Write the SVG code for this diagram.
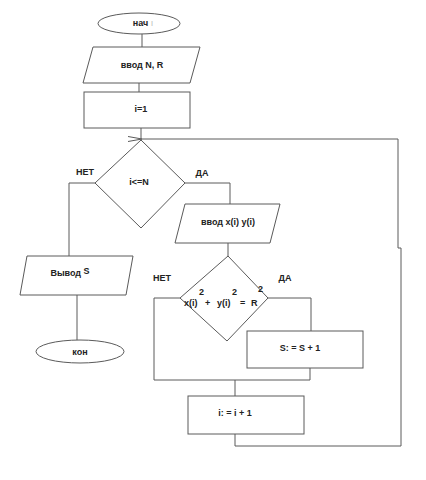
<svg xmlns="http://www.w3.org/2000/svg" width="426" height="480" viewBox="0 0 426 480">
<style>
.s{fill:#fff;stroke:#5a5a5a;stroke-width:1}
.c{fill:none;stroke:#5a5a5a;stroke-width:1}
text{font-family:"Liberation Sans",Arial,sans-serif;font-weight:bold;font-size:9px;fill:#222}
.m{text-anchor:middle}
</style>
<defs>
<marker id="ar" markerWidth="14" markerHeight="6" refX="0" refY="3" orient="auto" markerUnits="userSpaceOnUse">
<path d="M14,0.5 L0,3 L14,5.5" fill="none" stroke="#5a5a5a" stroke-width="1"/>
</marker>
</defs>
<rect width="426" height="480" fill="#fff"/>
<g id="connectors">
<path class="c" d="M142,34 V47"/>
<path class="c" d="M139,83 V92"/>
<path class="c" d="M141,128 V140"/>
<path class="c" d="M235,434 V446 H401 V248 H398 V139 H142" marker-end="url(#ar)"/>
<path class="c" d="M95,183 H69 V256"/>
<path class="c" d="M185,183 H230 V204"/>
<path class="c" d="M228,243 V256"/>
<path class="c" d="M77,295 V340"/>
<path class="c" d="M180,298 H154 V380 H310"/>
<path class="c" d="M268,298 H311 V331"/>
<path class="c" d="M310,368 V380"/>
<path class="c" d="M235,380 V396"/>
</g>
<g id="start">
<ellipse class="s" cx="139" cy="23.5" rx="41" ry="10.5"/>
<text x="143" y="26" class="m">нач <tspan fill="#bbb" font-weight="normal">ı</tspan></text>
</g>
<g id="input-nr">
<polygon class="s" points="93,47 200,47 190,83 83,83"/>
<text x="142" y="68" class="m">ввод N, R</text>
</g>
<g id="init-i">
<rect class="s" x="84" y="92" width="106" height="36"/>
<text x="141" y="112" class="m">i=1</text>
</g>
<g id="cond-i">
<polygon class="s" points="141,140 185,183 141,228 95,183"/>
<text x="139" y="185" class="m">i&lt;=N</text>
<text x="85" y="175" class="m">НЕТ</text>
<text x="202" y="176" class="m">ДА</text>
</g>
<g id="input-xy">
<polygon class="s" points="185,204 280,204 270,243 175,243"/>
<text x="228" y="225" class="m">ввод x(i) y(i)</text>
</g>
<g id="cond-circle">
<polygon class="s" points="228,256 268,298 227,341 180,298"/>
<text x="184" y="306">x(i)</text>
<text x="199" y="295">2</text>
<text x="205" y="306">+</text>
<text x="217" y="306">y(i)</text>
<text x="232" y="295">2</text>
<text x="240" y="306">=</text>
<text x="251" y="306">R</text>
<text x="258" y="292">2</text>
<text x="162" y="281" class="m">НЕТ</text>
<text x="285" y="281" class="m">ДА</text>
</g>
<g id="inc-s">
<rect class="s" x="247" y="331" width="116" height="37"/>
<text x="300" y="351" class="m">S: = S + 1</text>
</g>
<g id="inc-i">
<rect class="s" x="188" y="396" width="116" height="38"/>
<text x="235" y="416" class="m">i: = i + 1</text>
</g>
<g id="output-s">
<polygon class="s" points="27,256 133,256 126,295 20,295"/>
<text x="70" y="276" class="m">Вывод <tspan dy="-2">S</tspan></text>
</g>
<g id="end">
<ellipse class="s" cx="80" cy="351.5" rx="44" ry="11.5"/>
<text x="80" y="355" class="m">кон</text>
</g>
</svg>
